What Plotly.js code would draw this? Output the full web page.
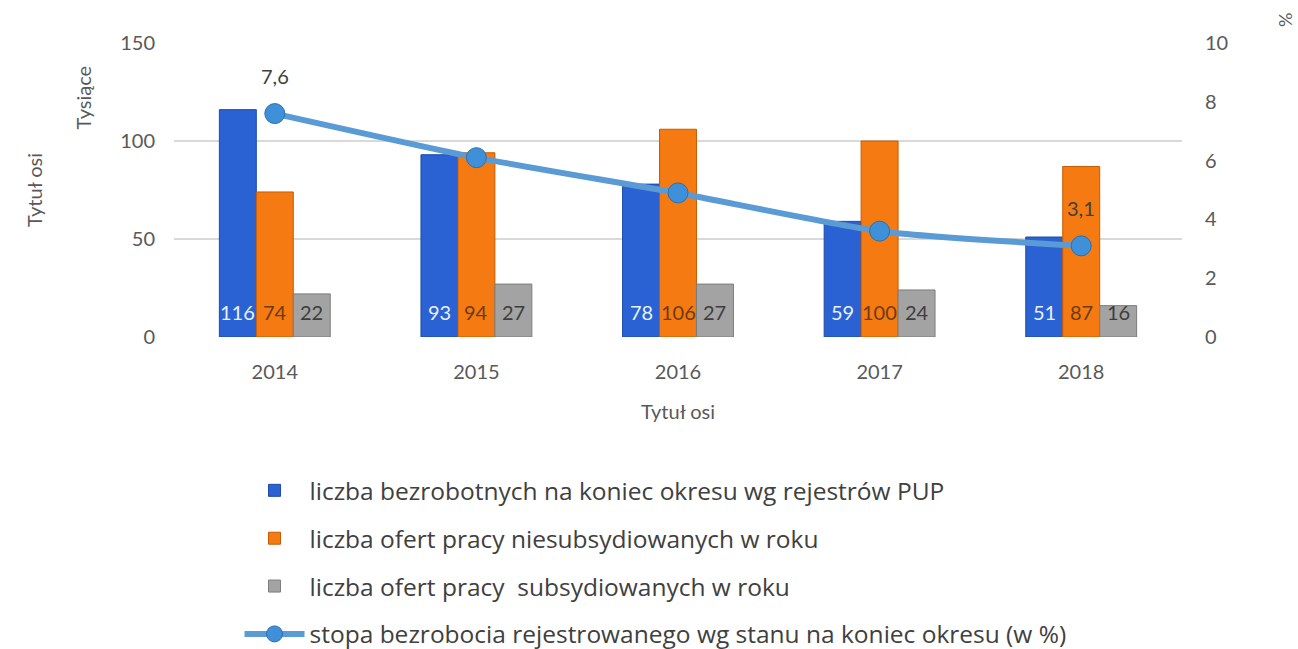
<!DOCTYPE html>
<html>
<head>
<meta charset="utf-8">
<script src="https://cdn.plot.ly/plotly-3.0.1.min.js"></script>
<style>html,body{margin:0;padding:0;background:#fff;}#chart{width:1298px;height:649px;}</style>
</head>
<body>
<div id="chart"></div>
<script>
const years = ['2014', '2015', '2016', '2017', '2018'];
const unemployed = [116, 93, 78, 59, 51];
const offersUnsubsidised = [74, 94, 106, 100, 87];
const offersSubsidised = [22, 27, 27, 24, 16];
const unemploymentRate = [7.6, 6.1, 4.9, 3.6, 3.1];
const seriesNames = [
  'liczba bezrobotnych na koniec okresu wg rejestrów PUP',
  'liczba ofert pracy niesubsydiowanych w roku',
  'liczba ofert pracy  subsydiowanych w roku',
  'stopa bezrobocia rejestrowanego wg stanu na koniec okresu (w %)'
];

const FONT = 'Lato, "Open Sans", sans-serif';
const LEGEND_FONT = '"Open Sans", Lato, sans-serif';
const barSeries = [unemployed, offersUnsubsidised, offersSubsidised];
const barColors = ['#2a62d4', '#f57a12', '#a3a3a3'];
const barEdges = ['#1d4ca8', '#c45c00', '#7c7c7c'];
const labelColors = ['#e8f0fb', '#6e3a12', '#3d3d3d'];
const bargap = 0.45;
const barW = (1 - bargap) / barSeries.length;

const traces = barSeries.map((vals, i) => ({
  type: 'bar',
  name: seriesNames[i],
  x: years,
  y: vals,
  marker: {color: barColors[i], line: {color: barEdges[i], width: 1}},
  legendgroup: 'g' + i,
  hoverinfo: 'y'
}));

traces.push({
  type: 'scatter',
  mode: 'lines+markers',
  name: seriesNames[3],
  x: years,
  y: unemploymentRate,
  yaxis: 'y2',
  line: {color: '#5b9bd5', width: 6, shape: 'spline', smoothing: 0.6},
  marker: {size: 20, color: '#3f90d8', line: {color: '#2b70b0', width: 1}},
  legendgroup: 'g3'
});

const annotations = [];
barSeries.forEach((vals, i) => {
  vals.forEach((v, j) => {
    annotations.push({
      x: j + (i - 1) * barW, y: 13, xref: 'x', yref: 'y',
      text: String(v), showarrow: false,
      font: {family: FONT, size: 20, color: labelColors[i]},
      xanchor: 'center', yanchor: 'middle'
    });
  });
});
[0, unemploymentRate.length - 1].forEach(j => {
  annotations.push({
    x: j, y: unemploymentRate[j], xref: 'x', yref: 'y2',
    text: unemploymentRate[j].toFixed(1).replace('.', ','),
    showarrow: false, yshift: 38,
    font: {family: FONT, size: 20, color: '#404040'}
  });
});
annotations.push({
  xref: 'paper', yref: 'paper', x: -0.09, y: 0.816,
  xanchor: 'center', yanchor: 'middle',
  text: 'Tysiące', showarrow: false, textangle: -90,
  font: {family: FONT, size: 20, color: '#595959'}
});
annotations.push({
  xref: 'paper', yref: 'paper', x: 1.102, y: 1.078,
  xanchor: 'center', yanchor: 'middle',
  text: '%', showarrow: false, textangle: -90,
  font: {family: FONT, size: 18, color: '#595959'}
});

const layout = {
  width: 1298, height: 649,
  margin: {l: 174, r: 116, t: 43, b: 312},
  paper_bgcolor: '#ffffff', plot_bgcolor: '#ffffff',
  font: {family: FONT, size: 20, color: '#595959'},
  barmode: 'group', bargap: bargap, bargroupgap: 0,
  showlegend: true,
  legend: {
    orientation: 'v', x: 0.065, xanchor: 'left',
    yref: 'container', y: 0.279, yanchor: 'top',
    font: {family: LEGEND_FONT, size: 24.5, color: '#404040'},
    tracegroupgap: 13, itemwidth: 60, traceorder: 'grouped'
  },
  xaxis: {
    type: 'category', showgrid: false, zeroline: false, showline: false,
    ticks: '', ticklabelstandoff: 21,
    tickfont: {family: FONT, size: 20, color: '#595959'},
    title: {text: 'Tytuł osi', standoff: 22, font: {family: FONT, size: 20, color: '#595959'}}
  },
  yaxis: {
    range: [0, 150], dtick: 50, showgrid: true, gridcolor: '#d9d9d9', gridwidth: 1.5,
    zeroline: false, showline: false, ticks: '', ticklabelstandoff: 18,
    tickfont: {family: FONT, size: 20, color: '#595959'},
    title: {text: 'Tytuł osi', standoff: 72, font: {family: FONT, size: 20, color: '#595959'}}
  },
  yaxis2: {
    overlaying: 'y', side: 'right', range: [0, 10], dtick: 2,
    showgrid: false, zeroline: false, showline: false, ticks: '', ticklabelstandoff: 22,
    tickfont: {family: FONT, size: 20, color: '#595959'}
  },
  annotations: annotations
};

Plotly.newPlot('chart', traces, layout, {displayModeBar: false, responsive: false});
</script>
</body>
</html>
